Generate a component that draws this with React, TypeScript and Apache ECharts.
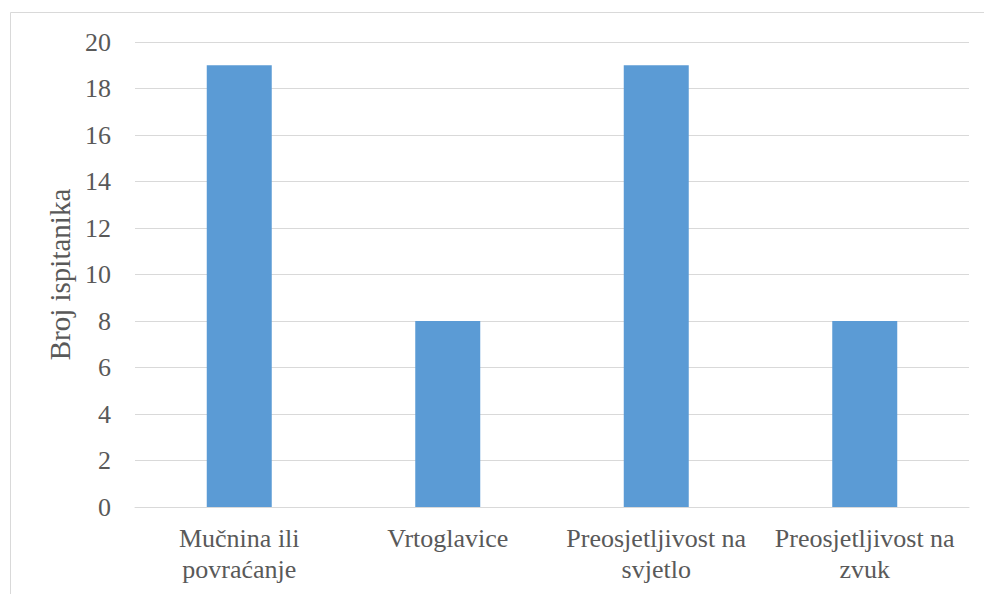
import React, { useEffect, useRef } from "react";
import * as echarts from "echarts";

const categories = [
  "Mučnina ili\npovraćanje",
  "Vrtoglavice",
  "Preosjetljivost na\nsvjetlo",
  "Preosjetljivost na\nzvuk",
];
const values = [19, 8, 19, 8];
const yAxisName = "Broj ispitanika";

export default function App() {
  const ref = useRef<HTMLDivElement>(null);
  useEffect(() => {
    if (!ref.current) return;
    const chart = echarts.init(ref.current, undefined, { renderer: "svg" });
    const font = "Liberation Serif";
    chart.setOption({
      animation: false,
      textStyle: { fontFamily: font },
      graphic: [
        {
          type: "line",
          shape: { x1: 10.5, y1: 12.5, x2: 984, y2: 12.5 },
          style: { stroke: "#d9d9d9", lineWidth: 1 },
          silent: true,
        },
        {
          type: "line",
          shape: { x1: 10.5, y1: 12.5, x2: 10.5, y2: 594 },
          style: { stroke: "#d9d9d9", lineWidth: 1 },
          silent: true,
        },
      ],
      grid: { left: 135, right: 15, top: 42, bottom: 87 },
      xAxis: {
        type: "category",
        data: categories,
        axisLine: { show: true, lineStyle: { color: "#d9d9d9", width: 1 } },
        axisTick: { show: false },
        axisLabel: {
          color: "#595959",
          fontSize: 26,
          fontFamily: font,
          lineHeight: 31,
          margin: 16,
          interval: 0,
        },
      },
      yAxis: {
        type: "value",
        min: 0,
        max: 20,
        interval: 2,
        name: yAxisName,
        nameLocation: "middle",
        nameGap: 60,
        nameTextStyle: { color: "#595959", fontSize: 29, fontFamily: font },
        axisLine: { show: false },
        axisTick: { show: false },
        axisLabel: { color: "#595959", fontSize: 26, fontFamily: font, margin: 24 },
        splitLine: { lineStyle: { color: "#d9d9d9", width: 1 } },
      },
      series: [
        {
          type: "bar",
          data: values,
          barWidth: 65,
          itemStyle: { color: "#5b9bd5" },
        },
      ],
    });
    return () => chart.dispose();
  }, []);
  return (
    <div
      ref={ref}
      style={{ position: "absolute", left: 0, top: 0, width: 984, height: 594, overflow: "hidden" }}
    />
  );
}
